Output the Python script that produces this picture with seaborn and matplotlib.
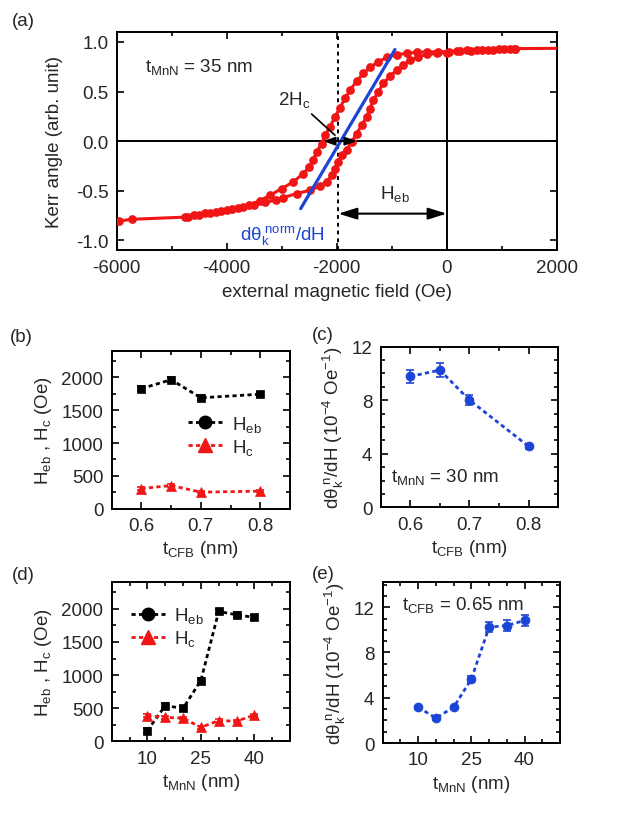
import numpy as np
import matplotlib
matplotlib.use("Agg")
import matplotlib.pyplot as plt
from matplotlib.lines import Line2D
from matplotlib.ticker import MultipleLocator
import seaborn as sns

# ---- data ----
# (a) hysteresis loop, t_MnN = 35 nm
down_field = [1240, 1050, 850, 650, 450, 250, 50, -150, -350, -546, -727, -909, -1091, -1243,
              -1394, -1515, -1636, -1758, -1849, -1939, -2030, -2121, -2212, -2273, -2364,
              -2424, -2497, -2606, -2788, -3000, -3212, -3400, -3600, -3800, -4000, -4200,
              -4400, -4600, -4758, -5728, -5952]
down_kerr = [0.93, 0.927, 0.922, 0.917, 0.912, 0.907, 0.902, 0.90, 0.90, 0.895, 0.885, 0.87,
             0.843, 0.80, 0.742, 0.682, 0.604, 0.514, 0.43, 0.339, 0.245, 0.144, 0.06, -0.024,
             -0.108, -0.185, -0.259, -0.326, -0.41, -0.478, -0.545, -0.60, -0.645, -0.675,
             -0.695, -0.712, -0.728, -0.745, -0.765, -0.787, -0.804]
up_field = [-4700, -4500, -4300, -4100, -3900, -3700, -3500, -3300, -3100, -2970, -2727, -2485,
            -2303, -2182, -2091, -2030, -1970, -1909, -1818, -1727, -1636, -1546, -1455, -1394,
            -1333, -1243, -1152, -1030, -909, -788, -667, -515, -364, -182, 0, 182, 363, 550,
            750, 950, 1150, 1240]
up_kerr = [-0.76, -0.745, -0.725, -0.705, -0.685, -0.665, -0.64, -0.615, -0.595, -0.568, -0.528,
           -0.494, -0.454, -0.41, -0.343, -0.276, -0.209, -0.142, -0.084, -0.007, 0.077, 0.161,
           0.245, 0.329, 0.413, 0.497, 0.581, 0.655, 0.715, 0.766, 0.816, 0.85, 0.873, 0.883,
           0.893, 0.91, 0.917, 0.92, 0.923, 0.927, 0.93, 0.932]
tail_field = [1240, 2000]
tail_kerr = [0.932, 0.935]
slope_field = [-2655, -940]
slope_kerr = [-0.68, 0.923]
center_field = -1970
hc_left, hc_right = -2244, -1636

# (b), (c) vs t_CFB, t_MnN = 30 nm
t_cfb = [0.6, 0.65, 0.7, 0.8]
heb_cfb = [1825, 1960, 1685, 1740]
heb_cfb_err = [40, 40, 40, 40]
hc_cfb = [310, 355, 255, 270]
hc_cfb_err = [20, 20, 20, 20]
slope_cfb = [9.78, 10.25, 8.01, 4.55]
slope_cfb_err = [0.5, 0.55, 0.4, 0.2]

# (d), (e) vs t_MnN, t_CFB = 0.65 nm
t_mnn = [10, 15, 20, 25, 30, 35, 40]
heb_mnn = [160, 538, 498, 917, 1960, 1910, 1870]
heb_mnn_err = [40, 40, 40, 40, 40, 40, 40]
hc_mnn = [387, 360, 350, 211, 312, 304, 395]
hc_mnn_err = [20, 20, 20, 20, 20, 20, 20]
slope_mnn = [3.16, 2.21, 3.16, 5.66, 10.24, 10.38, 10.83]
slope_mnn_err = [0.15, 0.15, 0.15, 0.3, 0.45, 0.45, 0.45]

RED = "#f01616"
BLUE = "#1c44d6"
FS = 13.5

sns.set_style("ticks")
plt.rcParams["font.family"] = ["Liberation Sans", "DejaVu Sans"]
plt.rcParams["mathtext.fontset"] = "custom"
plt.rcParams["mathtext.rm"] = "Liberation Sans"
plt.rcParams["mathtext.it"] = "Liberation Sans:italic"
plt.rcParams["mathtext.bf"] = "Liberation Sans:bold"
plt.rcParams["font.size"] = FS
plt.rcParams["axes.linewidth"] = 1.4

fig = plt.figure(figsize=(6.21, 8.28), dpi=100)


def style_axes(ax):
    ax.tick_params(which="both", direction="in", top=True, right=True,
                   width=1.2, color="k", labelsize=FS, pad=6)
    ax.tick_params(which="major", length=5)
    ax.tick_params(which="minor", length=3)
    for s in ax.spines.values():
        s.set_color("k")
        s.set_linewidth(1.4)


def dashed_series(ax, x, y, err, color, marker, ms):
    ax.errorbar(x, y, yerr=err, fmt="none", ecolor=color, elinewidth=1.2,
                capsize=3, capthick=1.2, zorder=2)
    sns.lineplot(x=x, y=y, ax=ax, color=color, marker=marker, markersize=ms,
                 markeredgecolor=color, markeredgewidth=0.5, linewidth=2,
                 linestyle=(0, (1.5, 1.2)), estimator=None, sort=False, zorder=3)


# ---------- (a) ----------
ax = fig.add_axes([0.1879, 0.6964, 0.7085, 0.2638])
ax.axhline(0, color="k", lw=1.4, zorder=1)
ax.axvline(0, color="k", lw=1.4, zorder=1)
ax.axvline(center_field, color="k", lw=1.4, linestyle=(0, (2, 2)), zorder=1)
for fx, ky in [(down_field, down_kerr), (up_field, up_kerr)]:
    sns.lineplot(x=fx, y=ky, ax=ax, color=RED, marker="o", markersize=6.3,
                 markeredgecolor=RED, markeredgewidth=0, linewidth=2.2,
                 estimator=None, sort=False, zorder=3)
sns.lineplot(x=tail_field, y=tail_kerr, ax=ax, color=RED, linewidth=2.2,
             estimator=None, sort=False, zorder=3)
sns.lineplot(x=slope_field, y=slope_kerr, ax=ax, color=BLUE, linewidth=2.3,
             estimator=None, sort=False, zorder=4)
ax.annotate("", xy=(hc_left, 0), xytext=(hc_right, 0),
            arrowprops=dict(arrowstyle="<|-|>,head_length=0.5,head_width=0.18",
                            color="k", lw=1.3, shrinkA=0, shrinkB=0, mutation_scale=14),
            zorder=5)
ax.annotate("", xy=(center_field, -0.73), xytext=(0, -0.73),
            arrowprops=dict(arrowstyle="<|-|>,head_length=0.8,head_width=0.25",
                            color="k", lw=1.5, shrinkA=0, shrinkB=0, mutation_scale=14))
ax.plot([-2455, -2031], [0.273, 0.06], color="k", lw=1.2, zorder=5)
ax.text(-5480, 0.76, "t$_\\mathrm{MnN}$ = 35 nm", fontsize=FS, va="center", ha="left")
ax.text(-3062, 0.42, "2H$_\\mathrm{c}$", fontsize=FS, va="center", ha="left")
ax.text(-1213, -0.52, "H$_\\mathrm{eb}$", fontsize=FS, va="center", ha="left")
ax.text(-3765, -0.95, "dθ$_\\mathrm{k}^{\\ \\mathrm{norm}}$/dH", fontsize=FS, va="center",
        ha="left", color=BLUE)
ax.set_xlim(-6000, 2000)
ax.set_ylim(-1.1, 1.1)
ax.xaxis.set_major_locator(MultipleLocator(2000))
ax.xaxis.set_minor_locator(MultipleLocator(1000))
ax.yaxis.set_major_locator(MultipleLocator(0.5))
ax.set_xticks([-6000, -4000, -2000, 0, 2000])
ax.set_xticklabels(["-6000", "-4000", "-2000", "0", "2000"])
ax.set_yticks([-1.0, -0.5, 0.0, 0.5, 1.0])
ax.set_yticklabels(["-1.0", "-0.5", "0.0", "0.5", "1.0"])
ax.set_xlabel("external magnetic field (Oe)", fontsize=FS, labelpad=5)
ax.set_ylabel("Kerr angle (arb. unit)", fontsize=FS, labelpad=9)
style_axes(ax)

# ---------- (b) ----------
ax = fig.add_axes([0.1799, 0.3841, 0.2871, 0.1912])
dashed_series(ax, t_cfb, heb_cfb, heb_cfb_err, "k", "s", 6)
dashed_series(ax, t_cfb, hc_cfb, hc_cfb_err, RED, "^", 7)
ax.set_xlim(0.55, 0.85)
ax.set_ylim(0, 2400)
ax.xaxis.set_major_locator(MultipleLocator(0.1))
ax.xaxis.set_minor_locator(MultipleLocator(0.05))
ax.yaxis.set_major_locator(MultipleLocator(500))
ax.yaxis.set_minor_locator(MultipleLocator(250))
ax.set_xlabel("t$_\\mathrm{CFB}$ (nm)", fontsize=FS, labelpad=3)
ax.set_ylabel("H$_\\mathrm{eb}$ , H$_\\mathrm{c}$ (Oe)", fontsize=FS, labelpad=5)
style_axes(ax)
handles = [Line2D([], [], color="k", lw=2, ls=(0, (1.5, 1.2)), marker="o", ms=9),
           Line2D([], [], color=RED, lw=2, ls=(0, (1.5, 1.2)), marker="^", ms=10)]
ax.legend(handles, ["H$_\\mathrm{eb}$", "H$_\\mathrm{c}$"], loc="center left",
          bbox_to_anchor=(0.43, 0.465), frameon=False, fontsize=FS, handlelength=1.8,
          handletextpad=0.5, labelspacing=0.15, borderpad=0, borderaxespad=0)

# ---------- (c) ----------
ax = fig.add_axes([0.6130, 0.3861, 0.2860, 0.1940])
dashed_series(ax, t_cfb, slope_cfb, slope_cfb_err, BLUE, "o", 6.5)
ax.text(0.568, 2.35, "t$_\\mathrm{MnN}$ = 30 nm", fontsize=FS, va="center", ha="left")
ax.set_xlim(0.55, 0.85)
ax.set_ylim(0, 12)
ax.xaxis.set_major_locator(MultipleLocator(0.1))
ax.xaxis.set_minor_locator(MultipleLocator(0.05))
ax.yaxis.set_major_locator(MultipleLocator(4))
ax.yaxis.set_minor_locator(MultipleLocator(1))
ax.set_xlabel("t$_\\mathrm{CFB}$ (nm)", fontsize=FS, labelpad=3)
ax.set_ylabel("dθ$_\\mathrm{k}^\\mathrm{\\ n}$/dH (10$^{-4}$ Oe$^{-1}$)", fontsize=FS, labelpad=4)
style_axes(ax)

# ---------- (d) ----------
ax = fig.add_axes([0.1799, 0.1035, 0.2871, 0.1920])
dashed_series(ax, t_mnn, heb_mnn, heb_mnn_err, "k", "s", 6)
dashed_series(ax, t_mnn, hc_mnn, hc_mnn_err, RED, "^", 7)
ax.set_xlim(0, 50)
ax.set_ylim(0, 2400)
ax.set_xticks([10, 25, 40])
ax.xaxis.set_minor_locator(MultipleLocator(5))
ax.yaxis.set_major_locator(MultipleLocator(500))
ax.yaxis.set_minor_locator(MultipleLocator(250))
ax.set_xlabel("t$_\\mathrm{MnN}$ (nm)", fontsize=FS, labelpad=3)
ax.set_ylabel("H$_\\mathrm{eb}$ , H$_\\mathrm{c}$ (Oe)", fontsize=FS, labelpad=5)
style_axes(ax)
ax.legend(handles, ["H$_\\mathrm{eb}$", "H$_\\mathrm{c}$"], loc="center left",
          bbox_to_anchor=(0.11, 0.72), frameon=False, fontsize=FS, handlelength=1.8,
          handletextpad=0.5, labelspacing=0.15, borderpad=0, borderaxespad=0)

# ---------- (e) ----------
ax = fig.add_axes([0.6163, 0.1014, 0.2855, 0.1941])
dashed_series(ax, t_mnn, slope_mnn, slope_mnn_err, BLUE, "o", 6.5)
ax.text(5.4, 12.25, "t$_\\mathrm{CFB}$ = 0.65 nm", fontsize=FS, va="center", ha="left")
ax.set_xlim(0, 50)
ax.set_ylim(0, 14.2)
ax.set_xticks([10, 25, 40])
ax.xaxis.set_minor_locator(MultipleLocator(5))
ax.yaxis.set_major_locator(MultipleLocator(4))
ax.yaxis.set_minor_locator(MultipleLocator(1))
ax.set_xlabel("t$_\\mathrm{MnN}$ (nm)", fontsize=FS, labelpad=3)
ax.set_ylabel("dθ$_\\mathrm{k}^\\mathrm{\\ n}$/dH (10$^{-4}$ Oe$^{-1}$)", fontsize=FS, labelpad=4)
style_axes(ax)

# panel letters
for lbl, x, y in [("(a)", 0.019, 0.974), ("(b)", 0.016, 0.5924), ("(c)", 0.502, 0.5948),
                  ("(d)", 0.019, 0.305), ("(e)", 0.502, 0.306)]:
    fig.text(x, y, lbl, fontsize=FS, va="center", ha="left")

fig.savefig("out.png", dpi=100)
